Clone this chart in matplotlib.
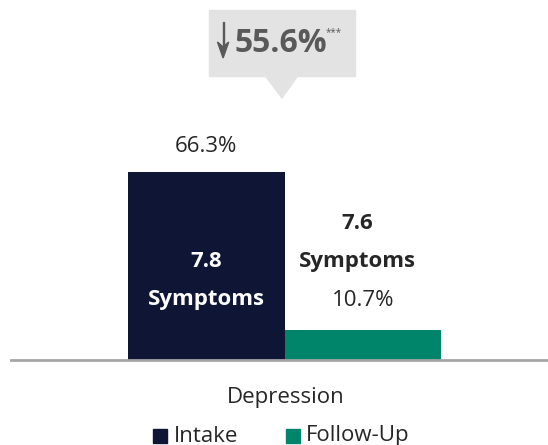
import matplotlib
matplotlib.use("Agg")
import matplotlib.pyplot as plt
from matplotlib.patches import Polygon, Rectangle

plt.rcParams['font.family'] = ['Open Sans', 'DejaVu Sans']

category = "Depression"
series = ["Intake", "Follow-Up"]
values = [66.3, 10.7]
symptoms = ["7.8", "7.6"]
change_label = "55.6%"
colors = ["#0E1535", "#00856A"]

W, H = 548, 445
fig = plt.figure(figsize=(W / 100, H / 100), dpi=100)

def px(x, y):
    return x / W, 1 - y / H

# axes: x from 11 to 548 px, y from 0 to 360 px (top)
ax = fig.add_axes([11 / W, 85 / H, 537 / W, 360 / H])
xs = [-0.5, 0.5]
ax.bar(xs, values, width=1.0, color=colors, zorder=2)
ax.set_xlim(-1.748, 1.684)
ax.set_ylim(0, 126.9)
for s in ["top", "right", "left"]:
    ax.spines[s].set_visible(False)
ax.spines["bottom"].set_color("#A6A6A6")
ax.spines["bottom"].set_linewidth(2)
ax.set_xticks([])
ax.set_yticks([])
ax.patch.set_alpha(0)

txt = "#262626"
fs = 16
ax.text(xs[0], values[0] + 8.8, f"{values[0]}%", ha="center", va="center", fontsize=fs, color=txt)
ax.text(xs[0], 34.6, symptoms[0], ha="center", va="center", fontsize=fs, color="white", fontweight="bold")
ax.text(xs[0], 21.2, "Symptoms", ha="center", va="center", fontsize=fs, color="white", fontweight="bold")
ax.text(xs[1], values[1] + 10.1, f"{values[1]}%", ha="center", va="center", fontsize=fs, color=txt)
ax.text(0.463, 48.0, symptoms[1], ha="center", va="center", fontsize=fs, color=txt, fontweight="bold")
ax.text(0.463, 34.6, "Symptoms", ha="center", va="center", fontsize=fs, color=txt, fontweight="bold")

# category label
fig.text(*px(286, 397), category, ha="center", va="center", fontsize=fs, color=txt)

# legend
fig.patches.append(Rectangle(px(153, 443), 14 / W, 14 / H, transform=fig.transFigure,
                             color=colors[0], figure=fig))
fig.text(*px(174, 436), series[0], ha="left", va="center", fontsize=fs, color=txt)
fig.patches.append(Rectangle(px(286, 443), 14 / W, 14 / H, transform=fig.transFigure,
                             color=colors[1], figure=fig))
fig.text(*px(306, 436), series[1], ha="left", va="center", fontsize=fs, color=txt)

# callout
box_col = "#E3E3E3"
fig.patches.append(Rectangle(px(209, 76), 146 / W, 66 / H, transform=fig.transFigure,
                             color=box_col, figure=fig))
fig.patches.append(Polygon([px(265, 75.5), px(298, 75.5), px(282, 98)], closed=True,
                           transform=fig.transFigure, color=box_col, figure=fig))
gray = "#595959"
fig.patches.append(Rectangle(px(222.5, 46), 1.2 / W, 24 / H, transform=fig.transFigure,
                             color=gray, figure=fig))
fig.patches.append(Polygon([px(217.5, 42), px(223.1, 47), px(228.7, 42), px(223.1, 58)], closed=True,
                           transform=fig.transFigure, color=gray, figure=fig))
fig.text(*px(281, 44), change_label, ha="center", va="center", fontsize=23, color=gray,
         fontweight="bold")
fig.text(*px(334, 33), "***", ha="center", va="center", fontsize=7, color=gray)

fig.savefig("out.png", dpi=100)
